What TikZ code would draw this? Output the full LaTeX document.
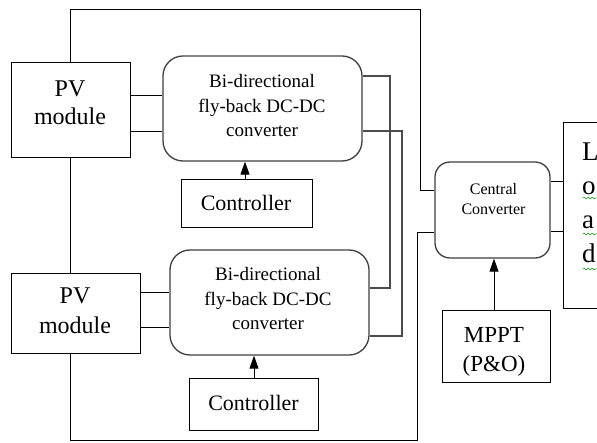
\documentclass[tikz,border=0pt]{standalone}
\usepackage{fontspec}
\setmainfont{Liberation Serif}
\newfontfamily\tnr{Liberation Serif}
\usetikzlibrary{arrows.meta,decorations.pathmorphing}
\begin{document}
\begin{tikzpicture}[x=1pt,y=-1pt,
  blk/.style={draw=black, line width=1pt, inner sep=0pt},
  rbox/.style={draw=black!75, line width=1.3pt, rounded corners=20pt, inner sep=0pt},
  wire/.style={draw=black, line width=0.9pt},
  bus/.style={draw=black!70, line width=1.2pt},
  sig/.style={draw=black, line width=1pt, -{Triangle[width=9pt,length=13pt]}},
  txt/.style={align=center, inner sep=0pt},
  spell/.style={draw=green!60!black, line width=0.5pt, decorate, decoration={snake, amplitude=0.9pt, segment length=4pt}}]
\useasboundingbox (0,0) rectangle (597,443);
\fill[white] (0,0) rectangle (597,443);

% boxes
\node[blk, minimum width=119pt, minimum height=95pt] (pv1) at (70.5,110.5) {};
\node[rbox, minimum width=199pt, minimum height=105pt] (conv1) at (262.5,108.5) {};
\node[blk, minimum width=131pt, minimum height=48pt] (ctrl1) at (246.5,204) {};
\node[blk, minimum width=129pt, minimum height=80pt] (pv2) at (75.5,314) {};
\node[rbox, minimum width=199pt, minimum height=105pt] (conv2) at (269.5,302.5) {};
\node[blk, minimum width=129pt, minimum height=51pt] (ctrl2) at (253.5,404.5) {};
\node[rbox, rounded corners=15pt, minimum width=115pt, minimum height=96pt] (cen) at (492.5,210) {};
\node[blk, minimum width=108pt, minimum height=72pt] (mppt) at (496,347) {};
\node[blk, minimum width=80pt, minimum height=186pt, anchor=north west] (load) at (563,122) {};

% texts
\node[txt, font=\tnr\fontsize{24}{28}\selectfont] (pv1t) at (70,103) {PV\\module};
\node[txt, font=\tnr\fontsize{24}{30}\selectfont] (pv2t) at (75,310.5) {PV\\module};
\node[txt, font=\tnr\fontsize{19}{24.5}\selectfont] (conv1t) at (262,106) {Bi-directional\\fly-back DC-DC\\converter};
\node[txt, font=\tnr\fontsize{19}{24.5}\selectfont] (conv2t) at (268,299) {Bi-directional\\fly-back DC-DC\\converter};
\node[txt, font=\tnr\fontsize{22}{26}\selectfont] (ctrl1t) at (246,202.5) {Controller};
\node[txt, font=\tnr\fontsize{22}{26}\selectfont] (ctrl2t) at (253.5,403) {Controller};
\node[txt, font=\tnr\fontsize{16}{20}\selectfont] (cent) at (493.5,199.5) {Central\\Converter};
\node[txt, font=\tnr\fontsize{23}{29}\selectfont] (mpptt) at (494,352) {MPPT\\(P\&O)};
\node[txt, align=left, anchor=west, font=\tnr\fontsize{27}{34}\selectfont] (loadt) at (582,202.5) {L\\o\\a\\d};
\draw[spell] (583,198) -- (597,198);
\draw[spell] (583,234) -- (597,234);
\draw[spell] (583,269) -- (597,269);

% wires
\draw[wire] (pv1.north) |- (420,9) |- (cen.west |- 0,190);
\draw[wire] (pv1.south) -- (pv1.south |- pv2.north);
\draw[wire] (pv1.south |- pv2.south) |- (417,440) |- (cen.west |- 0,232);
\draw[wire] (pv1.east |- 0,95) -- (conv1.west |- 0,95);
\draw[wire] (pv1.east |- 0,131) -- (conv1.west |- 0,131);
\draw[wire] (pv2.east |- 0,292) -- (conv2.west |- 0,292);
\draw[wire] (pv2.east |- 0,327) -- (conv2.west |- 0,327);
\draw[bus] (conv1.east |- 0,76) -| (390,288) -- (conv2.east |- 0,288);
\draw[bus] (conv1.east |- 0,131) -| (402,336) -- (conv2.east |- 0,336);
\draw[sig] (ctrl1.north -| 245,0) -- (conv1.south -| 245,0);
\draw[sig] (ctrl2.north -| 254,0) -- (conv2.south -| 254,0);
\draw[sig] (mppt.north -| 494,0) -- (cen.south -| 494,0);
\draw[wire] (cen.east |- 0,181) -- (load.west |- 0,181);
\draw[wire] (cen.east |- 0,231) -- (load.west |- 0,231);
\end{tikzpicture}
\end{document}
